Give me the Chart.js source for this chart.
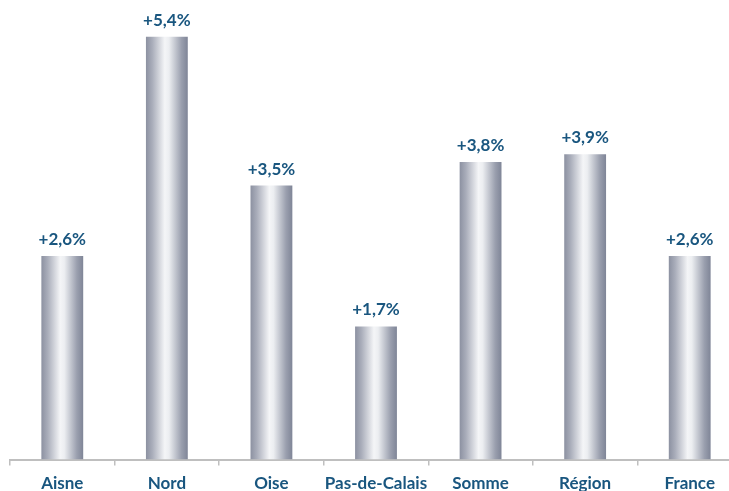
<!DOCTYPE html>
<html>
<head>
<meta charset="utf-8">
<script src="https://cdn.jsdelivr.net/npm/chart.js@4.4.0/dist/chart.umd.min.js"></script>
<style>
  html, body { margin: 0; padding: 0; background: #ffffff; overflow: hidden; }
  #wrap { width: 742px; height: 502px; }
</style>
</head>
<body>
<div id="wrap"><canvas id="growthChart" width="742" height="502"></canvas></div>
<script>
// Data
const categories = ['Aisne', 'Nord', 'Oise', 'Pas-de-Calais', 'Somme', 'Région', 'France'];
const growthValues = [2.6, 5.4, 3.5, 1.7, 3.8, 3.9, 2.6];
const valueLabels = ['+2,6%', '+5,4%', '+3,5%', '+1,7%', '+3,8%', '+3,9%', '+2,6%'];

const labelColor = '#19567f';
const fontFamily = 'Lato, "Open Sans", sans-serif';
const barShare = 0.4;

// Metallic horizontal gradient, built per bar from the x scale
function metalFill(context) {
    const chart = context.chart;
    const xScale = chart.scales.x;
    const fallback = '#a0a4b2';
    if (!xScale || context.dataIndex === undefined) return fallback;
    const center = xScale.getPixelForValue(context.dataIndex);
    const w = xScale.width / categories.length * barShare;
    if (!isFinite(center) || !isFinite(w) || w <= 0) return fallback;
    const left = center - w / 2;
    const g = chart.ctx.createLinearGradient(left, 0, left + w, 0);
    g.addColorStop(0, '#8c91a1');
    g.addColorStop(0.15, '#a9adba');
    g.addColorStop(0.45, '#f4f5f7');
    g.addColorStop(0.55, '#eceef1');
    g.addColorStop(0.85, '#9a9fae');
    g.addColorStop(1, '#7f8597');
    return g;
}

// Value labels above bars
const valueTags = {
    id: 'valueTags',
    afterDatasetsDraw(chart) {
        const ctx = chart.ctx;
        ctx.save();
        ctx.font = 'bold 17px ' + fontFamily;
        ctx.fillStyle = labelColor;
        ctx.textAlign = 'center';
        ctx.textBaseline = 'bottom';
        chart.getDatasetMeta(0).data.forEach((bar, i) => {
            ctx.fillText(valueLabels[i], bar.x, bar.y - 8);
        });
        ctx.restore();
    }
};

new Chart(document.getElementById('growthChart'), {
    type: 'bar',
    data: {
        labels: categories,
        datasets: [{
            data: growthValues,
            backgroundColor: metalFill,
            borderWidth: 0,
            barPercentage: barShare,
            categoryPercentage: 1.0
        }]
    },
    options: {
        responsive: false,
        animation: false,
        layout: { padding: { left: 10, right: 0, top: 0, bottom: 0 } },
        plugins: {
            legend: { display: false },
            tooltip: { enabled: false }
        },
        scales: {
            y: {
                display: false,
                min: 0,
                max: 5.87
            },
            x: {
                border: { display: true, color: '#bfbfbf', width: 2 },
                grid: {
                    display: true,
                    offset: true,
                    drawOnChartArea: false,
                    drawTicks: true,
                    tickLength: 6,
                    color: '#bfbfbf',
                    lineWidth: 1.5
                },
                ticks: {
                    color: labelColor,
                    padding: 8,
                    maxRotation: 0,
                    autoSkip: false,
                    font: { family: fontFamily, size: 17, weight: 'bold' }
                }
            }
        }
    },
    plugins: [valueTags]
});
</script>
</body>
</html>
